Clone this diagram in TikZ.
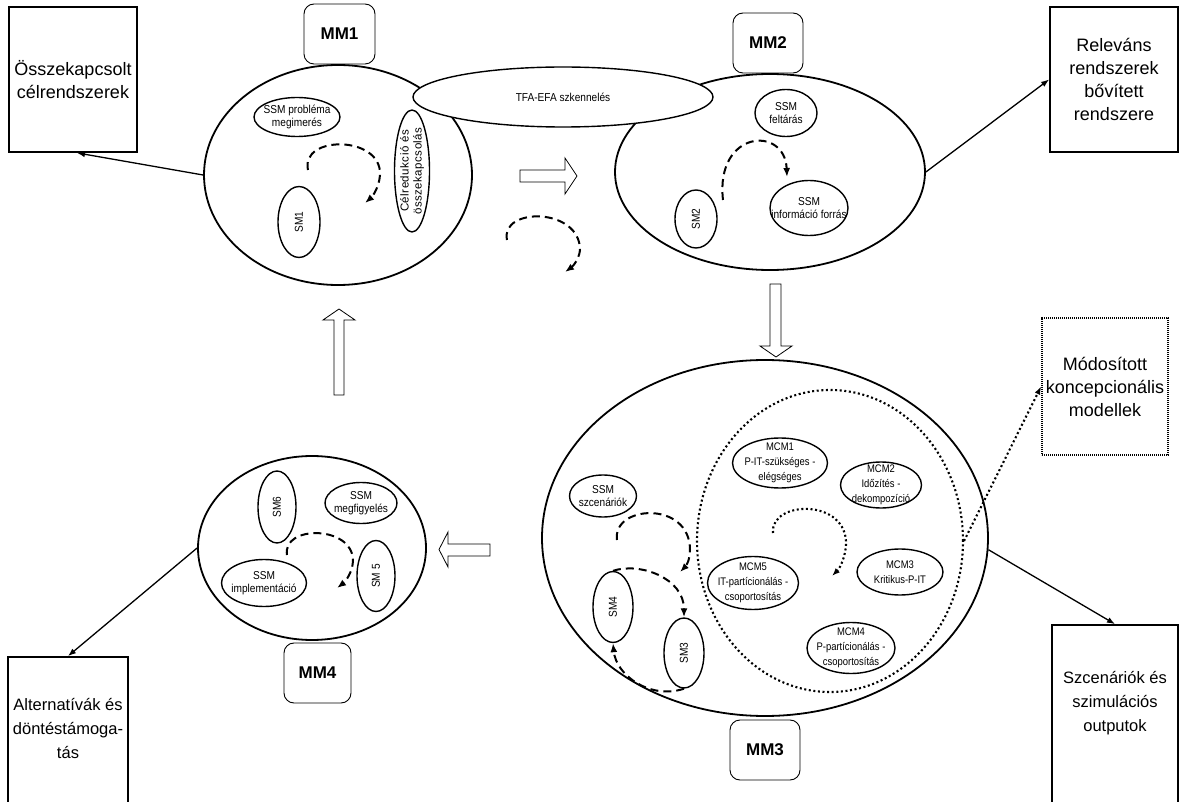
\documentclass[tikz,border=0pt]{standalone}
\usepackage{fontspec}
\setmainfont{Liberation Sans}
\newfontfamily\narfont[FakeStretch=0.88]{Liberation Sans}
\newfontfamily\mcmfont[FakeStretch=0.86]{Liberation Sans}
\usetikzlibrary{shapes.geometric,arrows.meta}
\tikzset{
  bigell/.style={ellipse,draw,line width=1.8pt,inner sep=0pt},
  smell/.style={ellipse,draw,line width=1.4pt,inner sep=0pt,fill=white},
  lab/.style={align=center,font=\narfont\fontsize{11.5}{13.5}\selectfont,inner sep=0pt},
  mlab/.style={align=center,font=\mcmfont\fontsize{11}{15}\selectfont,inner sep=0pt},
  rlab/.style={lab,rotate=90},
  mmbox/.style={draw,rounded corners=10pt,line width=0.9pt,font=\fontsize{17}{20}\selectfont\bfseries,inner sep=0pt},
  outbox/.style={draw,line width=1.8pt,inner sep=0pt},
  btext/.style={align=center,font=\fontsize{18}{23}\selectfont,inner sep=0pt},
  stext/.style={align=center,font=\fontsize{16.5}{24}\selectfont,inner sep=0pt},
  conn/.style={line width=1.3pt,-{Latex[length=8pt,width=6pt]}},
  dsh/.style={line width=2pt,dash pattern=on 8pt off 5pt,-{Latex[length=9pt,width=7pt]}},
  dts/.style={line width=2.1pt,dash pattern=on 2pt off 2.6pt},
  hol/.style={draw,line width=0.8pt,fill=white},
}
\begin{document}
\begin{tikzpicture}[x=1pt,y=-1pt]
\useasboundingbox (0,0) rectangle (1179,802);
\clip (0,0) rectangle (1179,802);

% big ellipses
\node[bigell,minimum width=268pt,minimum height=220pt] (mm1) at (338,175) {};
\node[bigell,minimum width=310pt,minimum height=196pt] (mm2) at (770,172) {};
\node[bigell,minimum width=446pt,minimum height=356pt] (mm3) at (765,538) {};
\node[bigell,minimum width=228pt,minimum height=184pt] (mm4) at (312,548) {};
\node[ellipse,draw,dts,inner sep=0pt,minimum width=266pt,minimum height=302pt] (dot) at (830,541) {};

\node[smell,minimum width=300pt,minimum height=60pt,label={[lab]center:TFA-EFA szkennelés}] (tfa) at (563,97) {};

% MM boxes
\node[mmbox,minimum width=71pt,minimum height=60pt] (b1) at (339.5,34) {MM1};
\node[mmbox,minimum width=70pt,minimum height=60pt] (b2) at (768,43) {MM2};
\node[mmbox,minimum width=70pt,minimum height=60pt] (b3) at (765,750) {MM3};
\node[mmbox,minimum width=67pt,minimum height=60pt] (b4) at (317.5,673) {MM4};

% output boxes
\node[outbox,btext,minimum width=128pt,minimum height=145pt] (tl) at (73,79.5) {Összekapcsolt\\célrendszerek};
\node[outbox,btext,minimum width=128pt,minimum height=145pt] (tr) at (1114,79.5) {Releváns\\rendszerek\\bővített\\rendszere};
\node[outbox,btext,dash pattern=on 1.2pt off 0.8pt,minimum width=126pt,minimum height=137pt] (mod) at (1105,386.5) {Módosított\\koncepcionális\\modellek};
\node[outbox,minimum width=120pt,minimum height=153pt] (alt) at (68,733.5) {};
\node[stext] (altt) at (68,729) {Alternatívák és\\döntéstámoga-\\tás};
\node[outbox,minimum width=126pt,minimum height=185pt] (szc) at (1115,717.5) {};
\node[stext] (szct) at (1115,703) {Szcenáriók és\\szimulációs\\outputok};

% MM1 content
\node[smell,minimum width=86pt,minimum height=39pt,label={[lab]center:SSM probléma\\megimerés}] (p1) at (297,117) {};
\node[smell,minimum width=42pt,minimum height=71pt,label={[rlab]center:SM1}] (sm1) at (299,222) {};
\node[smell,minimum width=35pt,minimum height=122pt,label={[rlab,font=\fontsize{11.5}{13}\selectfont\addfontfeature{LetterSpace=4}]center:Célredukció és\\összekapcsolás}] (cel) at (412,171) {};

% MM2 content
\node[smell,minimum width=62pt,minimum height=47pt,label={[lab]center:SSM\\feltárás}] (felt) at (786,113) {};
\node[smell,minimum width=78pt,minimum height=55pt,label={[lab]center:SSM\\információ forrás}] (info) at (809,208) {};
\node[smell,minimum width=42pt,minimum height=58pt,label={[rlab]center:SM2}] (sm2) at (696,219) {};

% MM3 content
\node[smell,minimum width=67pt,minimum height=42pt,label={[lab]center:SSM\\szcenáriók}] (szcn) at (603,496) {};
\node[smell,minimum width=40pt,minimum height=71pt,label={[rlab]center:SM4}] (sm4) at (613,607) {};
\node[smell,minimum width=40pt,minimum height=70pt,label={[rlab]center:SM3}] (sm3) at (684,653) {};
\node[smell,minimum width=95pt,minimum height=50pt,label={[mlab]center:MCM1\\P-IT-szükséges -\\elégséges}] (mcm1) at (780,463) {};
\node[smell,minimum width=81pt,minimum height=46pt,label={[mlab]center:MCM2\\Időzítés -\\dekompozíció}] (mcm2) at (881,485) {};
\node[smell,minimum width=86pt,minimum height=46pt,label={[mlab]center:MCM3\\Kritikus-P-IT}] (mcm3) at (900,572) {};
\node[smell,minimum width=91pt,minimum height=53pt,label={[mlab]center:MCM5\\IT-partícionálás -\\csoportosítás}] (mcm5) at (753,583) {};
\node[smell,minimum width=88pt,minimum height=51pt,label={[mlab]center:MCM4\\P-partícionálás -\\csoportosítás}] (mcm4) at (851,648) {};

% MM4 content
\node[smell,minimum width=38pt,minimum height=72pt,label={[rlab]center:SM6}] (sm6) at (277,507) {};
\node[smell,minimum width=72pt,minimum height=41pt,label={[lab]center:SSM\\megfigyelés}] (megf) at (361,503) {};
\node[smell,minimum width=85pt,minimum height=47pt,label={[lab]center:SSM\\implementáció}] (impl) at (264,583) {};
\node[smell,minimum width=38pt,minimum height=71pt,label={[rlab]center:SM 5}] (sm5) at (376,576) {};

% connectors to output boxes
\draw[conn] (mm1.west) -- ([xshift=4pt]tl.south);
\draw[conn] (mm2.east) -- (tr.west);
\draw[conn] (mm3.-3) -- (szc.north);
\draw[conn] (mm4.west) -- (alt.north);
\draw[dts,-{Latex[length=8pt,width=6pt]}] (dot.east) -- (mod.west);

% curved dashed arrows
\coordinate (a1s) at (308,170); \coordinate (a1e) at (365,203);
\draw[dsh] (a1s) .. controls (300,135) and (382,135) .. (380,175) .. controls (379,188) and (372,197) .. (a1e);
\coordinate (a2s) at (507,240); \coordinate (a2e) at (565,272);
\draw[dsh] (a2s) .. controls (500,207) and (580,207) .. (580,250) .. controls (579,260) and (572,267) .. (a2e);
\coordinate (a3s) at (723,200); \coordinate (a3e) at (787,177);
\draw[dsh] (a3s) .. controls (715,130) and (785,125) .. (a3e);
\coordinate (a4s) at (287,555); \coordinate (a4e) at (337,588);
\draw[dsh] (a4s) .. controls (282,525) and (352,525) .. (353,560) .. controls (353,572) and (345,582) .. (a4e);
\coordinate (a5s) at (617,540); \coordinate (a5e) at (680,572);
\draw[dsh] (a5s) .. controls (612,505) and (690,500) .. (690,550) .. controls (690,560) and (686,566) .. (a5e);
\draw[dsh] (sm4.north) .. controls (640,562) and (684,578) .. (sm3.north);
\draw[dsh] (sm3.south) .. controls (650,700) and (616,675) .. (sm4.south);
\coordinate (a6s) at (773,533); \coordinate (a6e) at (832,576);
\draw[dts,-{Latex[length=8pt,width=6pt]}] (a6s) .. controls (770,500) and (848,498) .. (846,545) .. controls (845,558) and (840,568) .. (a6e);

% hollow block arrows
\draw[hol] (520,170) -- (565,170) -- (565,158) -- (577,176) -- (565,194) -- (565,182) -- (520,182) -- cycle;
\draw[hol] (770,284) -- (781,284) -- (781,346) -- (792,346) -- (776,357) -- (760,346) -- (770,346) -- cycle;
\draw[hol] (334,395) -- (334,320) -- (323,320) -- (339,309) -- (355,320) -- (344,320) -- (344,395) -- cycle;
\draw[hol] (490,544) -- (448,544) -- (448,532) -- (439,549.5) -- (448,567) -- (448,556) -- (490,556) -- cycle;
\end{tikzpicture}
\end{document}
